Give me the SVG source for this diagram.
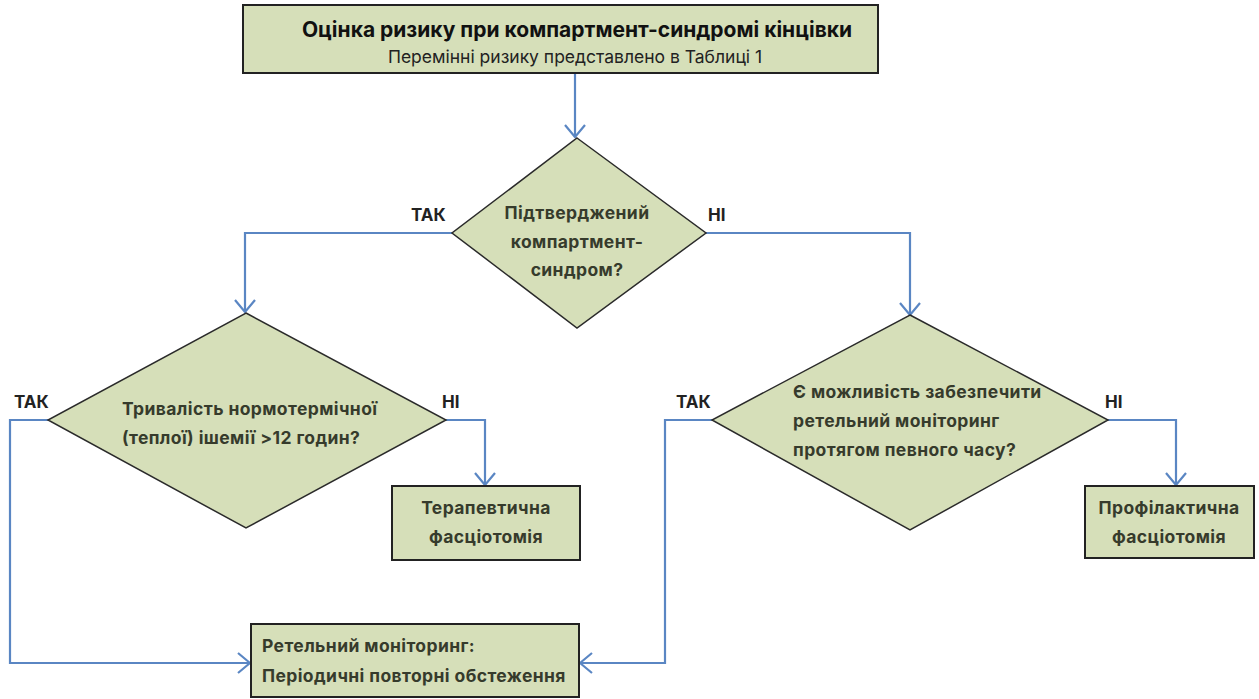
<svg xmlns="http://www.w3.org/2000/svg" width="1259" height="699" viewBox="0 0 1259 699">
<defs>
<style>
.box{fill:#d6dfb9;stroke:#222;stroke-width:2}
.dia{fill:#d6dfb9;stroke:#2a2a2a;stroke-width:1.5}
.con{fill:none;stroke:#5a86c3;stroke-width:2.2}
.t{font-family:Inter,"Noto Sans",sans-serif;font-weight:700;font-size:17.5px;fill:#363b2c;letter-spacing:0.4px}
.c{text-anchor:middle}
.lbl{font-family:Inter,"Noto Sans",sans-serif;font-weight:700;font-size:17px;fill:#222}
.title{font-family:Inter,"Noto Sans",sans-serif;font-weight:700;font-size:21px;fill:#111;text-anchor:middle}
.sub{font-family:Inter,"Noto Sans",sans-serif;font-weight:400;font-size:17.5px;fill:#222;text-anchor:middle}
</style>
<marker id="arr" viewBox="0 0 14 22" refX="13" refY="11" markerWidth="14" markerHeight="22" markerUnits="userSpaceOnUse" orient="auto">
<path d="M1,1 L13,11 L1,21" fill="none" stroke="#5a86c3" stroke-width="2.2"/>
</marker>
</defs>
<rect width="1259" height="699" fill="#fff"/>
<g id="connectors">
<path class="con" d="M575,73 V137" marker-end="url(#arr)"/>
<path class="con" d="M452,233 H245 V312" marker-end="url(#arr)"/>
<path class="con" d="M706,233 H910 V315" marker-end="url(#arr)"/>
<path class="con" d="M48,420 H10 V663 H250" marker-end="url(#arr)"/>
<path class="con" d="M446,420 H485 V485" marker-end="url(#arr)"/>
<path class="con" d="M712,420 H665 V663 H580" marker-end="url(#arr)"/>
<path class="con" d="M1108,420 H1176 V485" marker-end="url(#arr)"/>
</g>
<g id="start">
<rect class="box" x="243" y="5" width="635" height="68"/>
<text class="title" x="577" y="37">Оцінка ризику при компартмент-синдромі кінцівки</text>
<text class="sub" x="575" y="63">Перемінні ризику представлено в Таблиці 1</text>
</g>
<g id="q1">
<polygon class="dia" points="577,138 706,233 577,328 452,233"/>
<text class="t c" x="577" y="219">Підтверджений</text>
<text class="t c" x="577" y="248">компартмент-</text>
<text class="t c" x="577" y="276">синдром?</text>
</g>
<text class="lbl" x="411" y="221">ТАК</text>
<text class="lbl" x="708" y="221">НІ</text>
<g id="q2">
<polygon class="dia" points="246,313 446,420 246,528 48,420"/>
<text class="t" x="122" y="415">Тривалість нормотермічної</text>
<text class="t" x="122" y="444">(теплої) ішемії &gt;12 годин?</text>
</g>
<text class="lbl" x="14" y="408">ТАК</text>
<text class="lbl" x="442" y="408">НІ</text>
<g id="q3">
<polygon class="dia" points="910,315 1108,420 910,530 712,420"/>
<text class="t" x="793" y="398">Є можливість забезпечити</text>
<text class="t" x="793" y="427">ретельний моніторинг</text>
<text class="t" x="793" y="456">протягом певного часу?</text>
</g>
<text class="lbl" x="676" y="408">ТАК</text>
<text class="lbl" x="1105" y="408">НІ</text>
<g id="therapeutic">
<rect class="box" x="392" y="486" width="188" height="74"/>
<text class="t c" x="486" y="514">Терапевтична</text>
<text class="t c" x="486" y="543">фасціотомія</text>
</g>
<g id="prophylactic">
<rect class="box" x="1085" y="486" width="169" height="72"/>
<text class="t c" x="1169" y="514">Профілактична</text>
<text class="t c" x="1169" y="543">фасціотомія</text>
</g>
<g id="monitoring">
<rect class="box" x="251" y="624" width="328" height="73"/>
<text class="t" x="262" y="652">Ретельний моніторинг:</text>
<text class="t" x="262" y="682">Періодичні повторні обстеження</text>
</g>
</svg>
